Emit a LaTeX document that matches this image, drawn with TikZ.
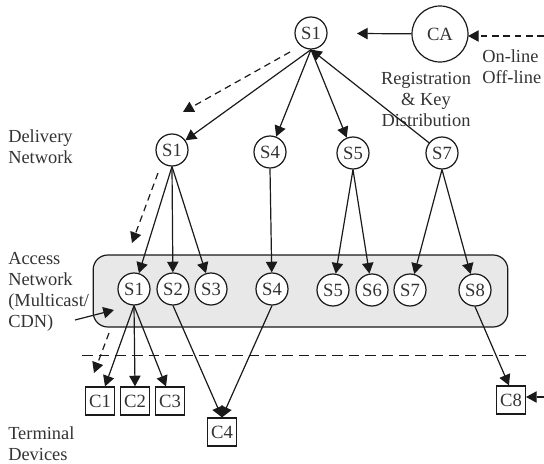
\documentclass[tikz,border=0pt]{standalone}
\usepackage{fontspec}
\setmainfont{Liberation Serif}
\usetikzlibrary{arrows.meta}
\definecolor{inkc}{HTML}{1A1A1A}
\definecolor{txtc}{HTML}{333333}
\definecolor{panelc}{HTML}{E8E8E8}
\tikzset{
  server/.style={circle,draw=inkc,line width=0.9pt,fill=white,minimum size=24pt,inner sep=0pt,text=txtc,font=\fontsize{14}{14}\selectfont},
  client/.style={rectangle,draw=inkc,line width=0.9pt,fill=white,minimum width=21.5pt,minimum height=21pt,inner sep=0pt,text=txtc,font=\fontsize{14}{14}\selectfont},
  label/.style={inner sep=0pt,text=txtc,font=\fontsize{13.8}{15.8}\selectfont},
  link/.style={draw=inkc,line width=0.9pt,-{Triangle[length=8pt,width=8.5pt]}},
  dlink/.style={draw=inkc,line width=0.9pt,dash pattern=on 5pt off 3.5pt,-{Triangle[length=8pt,width=8.5pt]}},
  sep/.style={draw=inkc,line width=0.75pt,dash pattern=on 8pt off 4.5pt}
}
\begin{document}
\begin{tikzpicture}[x=0.75pt,y=-0.75pt]
\useasboundingbox (0,0) rectangle (544,464);
% access panel
\node[draw=inkc,line width=0.9pt,fill=panelc,rounded corners=11pt,inner sep=0pt,minimum width=311pt,minimum height=54pt] (panel) at (300.5,291) {};
% separator
\coordinate (sepL) at (82,355);
\coordinate (sepR) at (527,355);
\draw[sep] (sepL) -- (sepR);
% servers
\node[server] (top) at (311,33) {S1};
\node[server,minimum size=42pt] (ca) at (440,34) {CA};
\node[server] (dS1) at (172,150) {S1};
\node[server] (dS4) at (270,152) {S4};
\node[server] (dS5) at (353,153) {S5};
\node[server] (dS7) at (442,153) {S7};
\node[server] (aS1) at (134,289) {S1};
\node[server] (aS2) at (173,289) {S2};
\node[server] (aS3) at (211,289) {S3};
\node[server] (aS4) at (272,289) {S4};
\node[server] (aS5) at (333,290) {S5};
\node[server] (aS6) at (372,290) {S6};
\node[server] (aS7) at (410,290) {S7};
\node[server] (aS8) at (475,290) {S8};
% clients
\node[client] (c1) at (100,401) {C1};
\node[client] (c2) at (135,401) {C2};
\node[client] (c3) at (170,401) {C3};
\node[client] (c4) at (222,432) {C4};
\node[client] (c8) at (511,400) {C8};
% labels
\node[label,anchor=west,align=left] (lDel) at (8,146.5) {Delivery\\Network};
\node[label,anchor=west,align=left] (lAcc) at (8,292) {Access\\Network\\(Multicast/\\CDN)};
\node[label,anchor=west,align=left] (lTer) at (8,443.5) {Terminal\\Devices};
\node[label,align=center] (lReg) at (426,99.5) {Registration\\\& Key\\Distribution};
\node[label,anchor=west,align=left] (lOn) at (482,66.5) {On-line\\Off-line};
% free ends
\coordinate (caEnd) at (357,33.5);
\coordinate (onStart) at (544,36);
\coordinate (onEnd) at (468,36);
\coordinate (d1a) at (290,52);
\coordinate (d1b) at (183,112);
\coordinate (d2a) at (158,173);
\coordinate (d2b) at (132,243);
\coordinate (d3a) at (109,333);
\coordinate (d3b) at (94,373);
\coordinate (c8a) at (544,397);
\coordinate (c8b) at (526,397);
\coordinate (acA) at (75,320);
\coordinate (acB) at (114,310);
% tree links
\draw[link] (ca) -- (caEnd);
\draw[link] (top.south) -- (dS1);
\draw[link] (top.south) -- (dS4);
\draw[link] (top.south) -- (dS5);
\draw[link] (dS7) -- (top.south);
\draw[link] (dS1.south) -- (aS1);
\draw[link] (dS1.south) -- (aS2);
\draw[link] (dS1.south) -- (aS3);
\draw[link] (dS4.south) -- (aS4);
\draw[link] (dS5.south) -- (aS5);
\draw[link] (dS5.south) -- (aS6);
\draw[link] (dS7.south) -- (aS7);
\draw[link] (dS7.south) -- (aS8);
\draw[link] (aS1.south) -- ([xshift=3.75pt]c1.north);
\draw[link] (aS1.south) -- (c2.north);
\draw[link] (aS1.south) -- ([xshift=-3pt]c3.north);
\draw[link] (aS2.south) -- (c4.north);
\draw[link] (aS4.south) -- (c4.north);
\draw[link] (aS8.south) -- ([xshift=-1.5pt]c8.north);
% dashed and pointer arrows
\draw[dlink] (onStart) -- (onEnd);
\draw[dlink] (d1a) -- (d1b);
\draw[dlink] (d2a) -- (d2b);
\draw[dlink] (d3a) -- (d3b);
\draw[dlink] (c8a) -- (c8b);
\draw[link] (acA) -- (acB);
\end{tikzpicture}
\end{document}
